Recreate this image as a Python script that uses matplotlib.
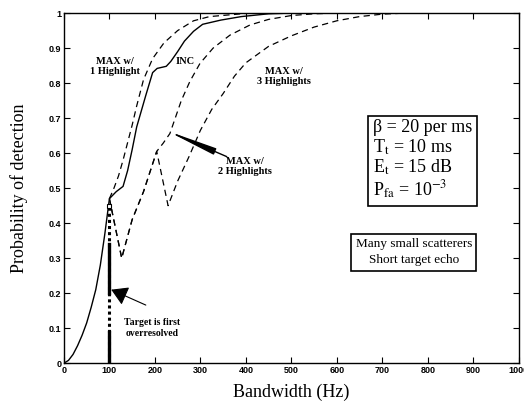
import matplotlib
matplotlib.use("Agg")
import matplotlib.pyplot as plt

# --- data ---
inc_x = [0, 10, 20, 30, 40, 50, 60, 70, 80, 90, 100, 115, 130, 140, 150, 160, 180, 195,
         205, 225, 235, 250, 265, 285, 305, 345, 390, 450, 500, 1000]
inc_y = [0, 0.008, 0.025, 0.05, 0.08, 0.115, 0.16, 0.21, 0.28, 0.37, 0.47, 0.49, 0.505,
         0.55, 0.61, 0.675, 0.765, 0.83, 0.842, 0.848, 0.862, 0.89, 0.92, 0.948, 0.968,
         0.98, 0.99, 0.998, 1.0, 1.0]

max1_x = [100, 110, 120, 130, 140, 150, 160, 175, 195, 220, 250, 285, 320, 400, 1000]
max1_y = [0.47, 0.50, 0.535, 0.58, 0.63, 0.68, 0.735, 0.81, 0.87, 0.915, 0.95, 0.978,
          0.99, 0.999, 1.0]

max2_x = [100, 127, 150, 175, 204, 218, 233, 258, 277, 299, 328, 365, 409, 450, 500,
          550, 600, 1000]
max2_y = [0.47, 0.30, 0.41, 0.49, 0.605, 0.628, 0.656, 0.75, 0.805, 0.856, 0.9, 0.937,
          0.966, 0.982, 0.993, 0.998, 1.0, 1.0]

max3_x = [100, 127, 150, 175, 204, 229, 250, 275, 300, 325, 350, 375, 400, 450, 500,
          550, 600, 650, 700, 750, 1000]
max3_y = [0.47, 0.30, 0.41, 0.49, 0.605, 0.45, 0.52, 0.59, 0.665, 0.725, 0.77, 0.82,
          0.858, 0.905, 0.935, 0.96, 0.978, 0.99, 0.997, 1.0, 1.0]

overres_bw = 100        # bandwidth where target is first overresolved
overres_top = 0.45

x_ticks = list(range(0, 1001, 100))
y_ticks = [i / 10 for i in range(11)]
y_ticklabels = ["0"] + [f"{v:.1f}" for v in y_ticks[1:-1]] + ["1"]

plt.rcParams["mathtext.fontset"] = "stix"
serif = "Liberation Serif"

fig = plt.figure(figsize=(5.24, 4.09), dpi=100)
ax = fig.add_axes([0.122, 0.112, 0.868, 0.856])

dash = (0, (5, 3.5))
ax.plot(inc_x, inc_y, color="black", lw=1.0)
ax.plot(max1_x, max1_y, color="black", lw=0.9, linestyle=dash)
ax.plot(max2_x, max2_y, color="black", lw=0.9, linestyle=dash)
ax.plot(max3_x, max3_y, color="black", lw=0.9, linestyle=dash)

# vertical marker at the overresolution bandwidth
ax.plot([overres_bw, overres_bw], [0, overres_top], color="black", lw=2.2, linestyle=(0, (1, 1)))
ax.plot([overres_bw, overres_bw], [0, 0.09], color="black", lw=2.4)
ax.plot([overres_bw, overres_bw], [0.2, 0.34], color="black", lw=2.4)
ax.plot([overres_bw], [overres_top], marker="s", ms=3, mfc="white", mec="black", mew=0.8)

ax.set_xlim(0, 1000)
ax.set_ylim(0, 1)
ax.set_xticks(x_ticks)
ax.set_yticks(y_ticks)
ax.set_yticklabels(y_ticklabels)
ax.tick_params(direction="in", top=True, right=True, length=4, width=0.8,
               labelsize=6.5, pad=2)
for lab in ax.get_xticklabels() + ax.get_yticklabels():
    lab.set_fontweight("bold")
    lab.set_family("Liberation Sans")
for s in ax.spines.values():
    s.set_linewidth(1.0)

ax.set_xlabel("Bandwidth (Hz)", family=serif, fontsize=13, labelpad=6)
ax.set_ylabel("Probability of detection", family=serif, fontsize=13, labelpad=15)

lbl = dict(family=serif, fontsize=7.5, fontweight="bold", ha="center", va="center",
           linespacing=1.15)
ax.text(112, 0.848, "MAX w/\n1 Highlight", **lbl)
ax.text(266, 0.862, "INC", **lbl)
ax.text(483, 0.818, "MAX w/\n3 Highlights", **lbl)
ax.text(398, 0.563, "MAX w/\n2 Highlights", **lbl)
ax.annotate("", xy=(226, 0.664), xytext=(358, 0.59),
            arrowprops=dict(arrowstyle="-|>,head_length=3.0,head_width=0.2",
                            color="black", lw=1.0, shrinkA=0, shrinkB=0))

ax.text(194, 0.10, "Target is first\noverresolved", family=serif, fontsize=7,
        fontweight="bold", ha="center", va="center", linespacing=1.3)
ax.annotate("", xy=(104, 0.21), xytext=(180, 0.166),
            arrowprops=dict(arrowstyle="-|>,head_length=1.0,head_width=0.6",
                            color="black", lw=0.8, shrinkA=0, shrinkB=0))

params = ("β = 20 per ms\n"
          "T$_{\\rm t}$ = 10 ms\n"
          "E$_{\\rm t}$ = 15 dB\n"
          "P$_{\\rm fa}$ = 10$^{-3}$")
ax.text(679, 0.58, params, family=serif, fontsize=13, ha="left", va="center",
        linespacing=1.08,
        bbox=dict(boxstyle="square,pad=0.25", fc="white", ec="black", lw=1.2))

ax.text(769, 0.317, "Many small scatterers\nShort target echo", family=serif,
        fontsize=9.5, ha="center", va="center", linespacing=1.4,
        bbox=dict(boxstyle="square,pad=0.35", fc="white", ec="black", lw=1.2))

fig.savefig("out.png", dpi=100)
